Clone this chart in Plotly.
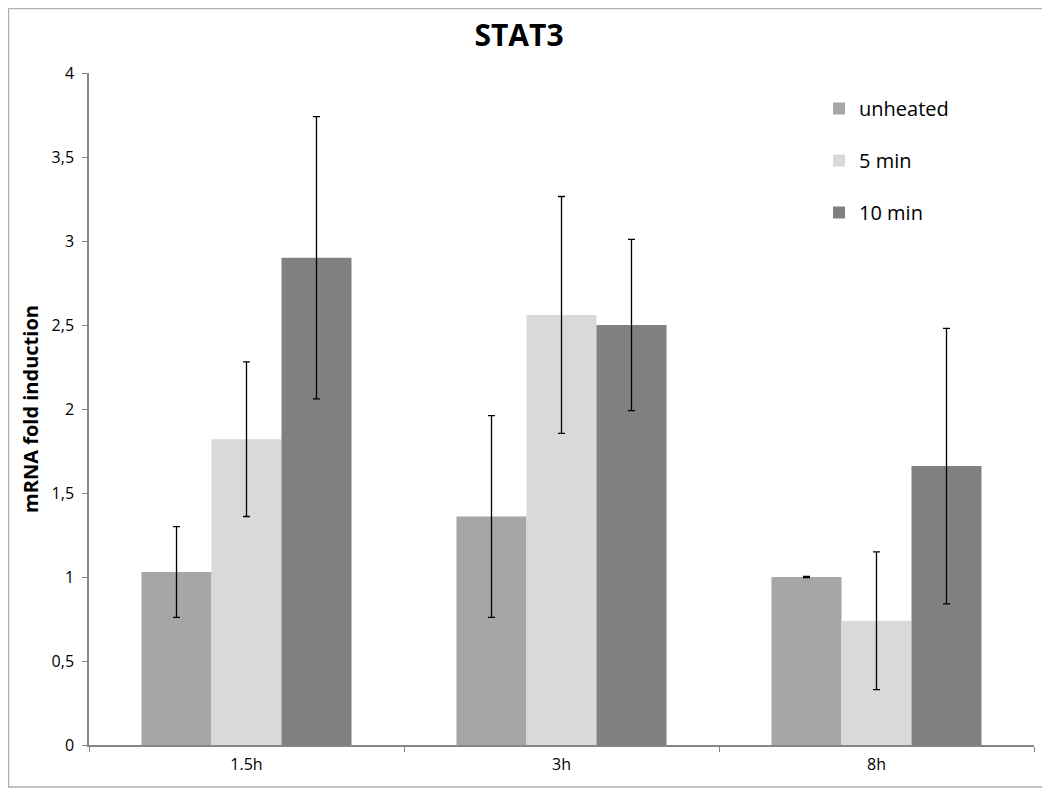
import plotly.graph_objects as go

categories = ["1.5h", "3h", "8h"]
series_names = ["unheated", "5 min", "10 min"]
unheated = [1.03, 1.36, 1.00]
unheated_err = [0.27, 0.60, 0.003]
min5 = [1.82, 2.56, 0.74]
min5_err = [0.46, 0.705, 0.41]
min10 = [2.90, 2.50, 1.66]
min10_err = [0.84, 0.51, 0.82]
colors = ["#a6a6a6", "#d9d9d9", "#808080"]
y_ticks = [0, 0.5, 1, 1.5, 2, 2.5, 3, 3.5, 4]
y_ticktext = ["0", "0,5", "1", "1,5", "2", "2,5", "3", "3,5", "4"]

# page has an 8px body margin; figure coords = page coords - 8
W, H = 1042, 780
L, T = 81, 65
R = W - 1026
B = H - 737

fig = go.Figure()
for name, vals, errs, col in zip(series_names, [unheated, min5, min10],
                                 [unheated_err, min5_err, min10_err], colors):
    fig.add_trace(go.Bar(
        x=categories, y=vals, name=name, legendgroup=name,
        marker=dict(color=col, line=dict(width=0)),
        error_y=dict(type="data", array=errs, visible=True,
                     color="black", thickness=1.3, width=3.5),
    ))

pw = W - L - R
ph = H - T - B
def px2x(px):
    return (px - L) / pw
def py2y(py):
    return (H - B - py) / ph

fig.update_layout(
    width=W, height=H,
    margin=dict(l=L, r=R, t=T, b=B),
    paper_bgcolor="white", plot_bgcolor="white",
    barmode="group", bargap=1/3, bargroupgap=0,
    font=dict(family="Open Sans, sans-serif", color="#000000"),
    title=dict(text="<b>STAT3</b>", x=511 / W, xanchor="center",
               y=1 - 27 / H, yanchor="middle",
               font=dict(size=30, family="Open Sans, sans-serif", color="#000000")),
    showlegend=True,
    legend=dict(x=px2x(811), y=py2y(81), xanchor="left", yanchor="top",
                font=dict(size=20, family="Open Sans, sans-serif", color="#000000"),
                tracegroupgap=23, bgcolor="rgba(0,0,0,0)", itemwidth=30),
    xaxis=dict(showline=True, linecolor="#868686", linewidth=1.5,
               ticks="outside", tickson="boundaries", ticklen=5,
               tickcolor="#868686", tickfont=dict(size=16),
               ticklabelstandoff=4,
               showgrid=False, zeroline=False),
    yaxis=dict(range=[0, 4], tickvals=y_ticks, ticktext=y_ticktext,
               showline=True, linecolor="#868686", linewidth=1.5,
               ticks="outside", ticklen=5, tickcolor="#868686",
               ticklabelstandoff=5,
               tickfont=dict(size=16), showgrid=False, zeroline=False,
               title=dict(text="<b>mRNA fold induction</b>",
                          font=dict(size=20), standoff=8)),
    shapes=[dict(type="rect", xref="paper", yref="paper",
                 x0=px2x(0.5), x1=px2x(W - 1), y0=py2y(H - 1), y1=py2y(0.5),
                 line=dict(color="#b0b0b0", width=1.5), layer="below")],
)

fig.write_html("out.html")
